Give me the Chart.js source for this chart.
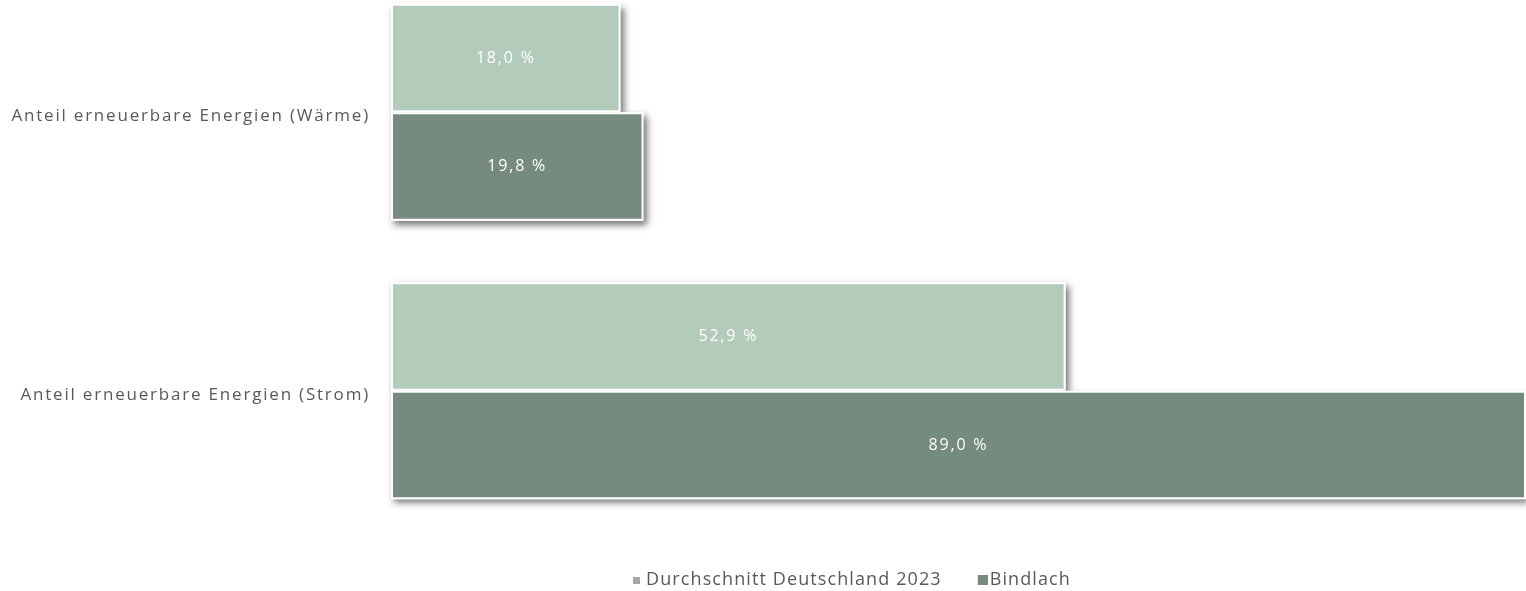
<!DOCTYPE html>
<html>
<head>
<meta charset="utf-8">
<script src="https://cdn.jsdelivr.net/npm/chart.js@4"></script>
<style>
  html, body { margin: 0; padding: 0; background: #fff; overflow: hidden; }
  #wrap { position: absolute; left: 0; top: -27px; width: 1526px; height: 626px; }
</style>
</head>
<body>
<div id="wrap"><canvas id="c"></canvas></div>
<script>
const categories = ['Anteil erneuerbare Energien (Wärme)', 'Anteil erneuerbare Energien (Strom)'];
const seriesNames = ['Durchschnitt Deutschland 2023', 'Bindlach'];
const germanyAvg = [18.0, 52.9];
const bindlach = [19.8, 89.0];

const FONT = 'Open Sans';
const AXIS_TRACKING = '1.8px';
const LEGEND_TRACKING = '1.1px';
const VALUE_TRACKING = '1.8px';
const lightGreen = '#b3cbbb';
const darkGreen = '#748b7e';
const textGrey = '#595959';

function fmt(v) {
  return v.toFixed(1).replace('.', ',') + ' %';
}

// legend marker: a square swatch at the right edge of a wider, transparent canvas
function swatch(width, size, color) {
  const c = document.createElement('canvas');
  c.width = width; c.height = size;
  const g = c.getContext('2d');
  g.fillStyle = color;
  g.fillRect(width - size, 0, size, size);
  return c;
}

// letter spacing for the axis text, with its own value inside the legend
const tracking = {
  id: 'tracking',
  afterInit(chart) {
    const lg = chart.legend;
    ['fit', 'draw'].forEach(m => {
      const orig = lg[m].bind(lg);
      lg[m] = function (...args) {
        const ctx = chart.ctx;
        const prev = ctx.letterSpacing;
        ctx.letterSpacing = LEGEND_TRACKING;
        const r = orig(...args);
        ctx.letterSpacing = prev;
        return r;
      };
    });
  },
  beforeUpdate(chart) { chart.ctx.letterSpacing = AXIS_TRACKING; },
  beforeDraw(chart) { chart.ctx.letterSpacing = AXIS_TRACKING; },
  // legend sits a little right of the canvas centre
  afterLayout(chart) { chart.legend.left += 172; }
};

// soft drop shadow behind each bar
const barShadow = {
  id: 'barShadow',
  beforeDatasetsDraw(chart) {
    const ctx = chart.ctx;
    ctx.save();
    ctx.shadowColor = 'rgba(0,0,0,0.55)';
    ctx.shadowBlur = 7;
    ctx.shadowOffsetX = 3;
    ctx.shadowOffsetY = 4;
    ctx.fillStyle = '#fff';
    chart.data.datasets.forEach((ds, i) => {
      chart.getDatasetMeta(i).data.forEach(bar => {
        const p = bar.getProps(['x', 'y', 'base', 'height'], true);
        ctx.fillRect(p.base, p.y - p.height / 2, p.x - p.base, p.height);
      });
    });
    ctx.restore();
  }
};

// value text in the middle of each bar
const barValues = {
  id: 'barValues',
  afterDatasetsDraw(chart) {
    const ctx = chart.ctx;
    ctx.save();
    ctx.letterSpacing = VALUE_TRACKING;
    ctx.fillStyle = '#ffffff';
    ctx.font = '16px "' + FONT + '"';
    ctx.textAlign = 'center';
    ctx.textBaseline = 'middle';
    chart.data.datasets.forEach((ds, i) => {
      chart.getDatasetMeta(i).data.forEach((bar, j) => {
        const p = bar.getProps(['x', 'y', 'base'], true);
        ctx.fillText(fmt(ds.data[j]), (p.x + p.base) / 2, p.y);
      });
    });
    ctx.restore();
  }
};

new Chart(document.getElementById('c'), {
  type: 'bar',
  data: {
    labels: categories,
    datasets: [
      { label: seriesNames[0], data: germanyAvg, backgroundColor: lightGreen,
        borderColor: '#ffffff', borderWidth: 2, borderSkipped: false },
      { label: seriesNames[1], data: bindlach, backgroundColor: darkGreen,
        borderColor: '#ffffff', borderWidth: 2, borderSkipped: false }
    ]
  },
  options: {
    indexAxis: 'y',
    responsive: true,
    maintainAspectRatio: false,
    animation: false,
    layout: { padding: 0 },
    datasets: { bar: { categoryPercentage: 0.78, barPercentage: 1.0 } },
    scales: {
      x: {
        min: 0, max: 89,
        grid: { display: false },
        border: { display: false },
        ticks: { display: false },
        afterFit(scale) { scale.height = 12; }
      },
      y: {
        grid: { display: false, drawTicks: false },
        border: { display: false },
        ticks: { color: textGrey, font: { family: FONT, size: 17 }, padding: 21, labelOffset: 4 },
        afterFit(scale) {
          scale.width = 391;
          scale.paddingTop = 0;
          scale.paddingBottom = 0;
        }
      }
    },
    plugins: {
      tooltip: { enabled: false },
      legend: {
        position: 'bottom',
        labels: {
          color: textGrey,
          font: { family: FONT, size: 18 },
          usePointStyle: true,
          pointStyleWidth: 10,
          padding: 29,
          generateLabels(chart) {
            const markers = [swatch(16, 7, '#a6a6a6'), swatch(24, 10, darkGreen)];
            return chart.data.datasets.map((ds, i) => ({
              text: ds.label,
              pointStyle: markers[i],
              fillStyle: ds.backgroundColor,
              strokeStyle: 'transparent',
              lineWidth: 0,
              hidden: false,
              datasetIndex: i,
              fontColor: textGrey
            }));
          }
        }
      }
    }
  },
  plugins: [tracking, barShadow, barValues]
});
</script>
</body>
</html>
